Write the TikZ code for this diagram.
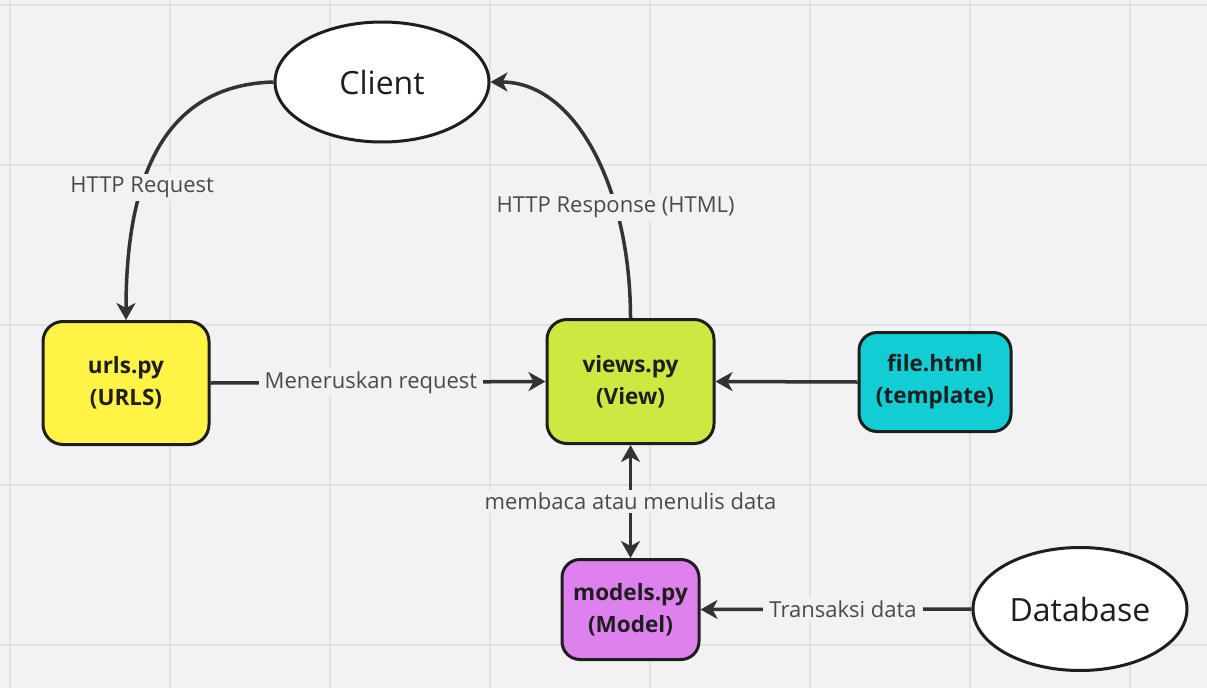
\documentclass[tikz,border=0pt]{standalone}
\usepackage{fontspec}
\setmainfont{Open Sans}
\usetikzlibrary{arrows.meta,shapes.geometric}
\definecolor{bg}{HTML}{F2F2F2}
\definecolor{gridc}{HTML}{E1E1E1}
\definecolor{stroke}{HTML}{1E1E1E}
\definecolor{conn}{HTML}{333333}
\definecolor{labc}{HTML}{4A4A4A}
\definecolor{yel}{HTML}{FFF445}
\definecolor{grn}{HTML}{CEE741}
\definecolor{cya}{HTML}{12CDD4}
\definecolor{mag}{HTML}{DE80EE}
\tikzset{
  box/.style={draw=stroke, line width=3pt, rounded corners=20pt, align=center,
    inner sep=0pt, font=\fontsize{22.5}{32}\selectfont\bfseries, text=stroke},
  oval/.style={ellipse, draw=stroke, line width=3pt, fill=white, inner sep=0pt,
    font=\fontsize{32}{38}\selectfont, text=stroke},
  conline/.style={draw=conn, line width=3.5pt, -{Stealth[length=17pt,width=19pt,inset=5pt]}},
  lab/.style={fill=bg, text=labc, font=\fontsize{22}{26}\selectfont, inner xsep=6pt, inner ysep=3pt}
}
\begin{document}
\begin{tikzpicture}[x=1pt,y=-1pt]
\useasboundingbox (0,0) rectangle (1207,688);
\fill[bg] (0,0) rectangle (1207,688);
\foreach \gx in {10,170,...,1130} \draw[gridc, line width=2pt] (\gx,0) -- (\gx,688);
\foreach \gy in {5,165,...,645} \draw[gridc, line width=2pt] (0,\gy) -- (1207,\gy);

\node[oval, minimum width=214pt, minimum height=120pt] (client) at (382,82) {Client};
\node[oval, minimum width=214pt, minimum height=123pt] (db) at (1080,609) {Database};

\node[box, fill=yel, minimum width=166pt, minimum height=123pt] (urls) at (126,383) {urls.py\\(URLS)};
\node[box, fill=grn, minimum width=167pt, minimum height=124pt] (views) at (630.5,381.5) {views.py\\(View)};
\node[box, fill=cya, minimum width=152pt, minimum height=99pt, rounded corners=18pt] (file) at (935,382) {file.html\\(template)};
\node[box, fill=mag, minimum width=137pt, minimum height=100pt, rounded corners=18pt] (models) at (630.5,609.5) {models.py\\(Model)};

\draw[conline] (client.west) .. controls +(-110,3) and +(0,-142) .. node[lab, pos=0.64] {HTTP Request} (urls.north);
\draw[conline] (views.north) .. controls +(0,-128) and +(86,0) .. node[lab, pos=0.31] {HTTP Response (HTML)} (client.east);
\draw[conline] (urls.east) -- node[lab, pos=0.479] {Meneruskan request} (views.west);
\draw[conline] (file.west) -- (views.east);
\draw[conline, {Stealth[length=17pt,width=19pt,inset=5pt]}-{Stealth[length=17pt,width=19pt,inset=5pt]}] (views.south) -- node[lab] {membaca atau menulis data} (models.north);
\draw[conline] (db.west) -- node[lab, pos=0.474] {Transaksi data} (models.east);
\end{tikzpicture}
\end{document}
